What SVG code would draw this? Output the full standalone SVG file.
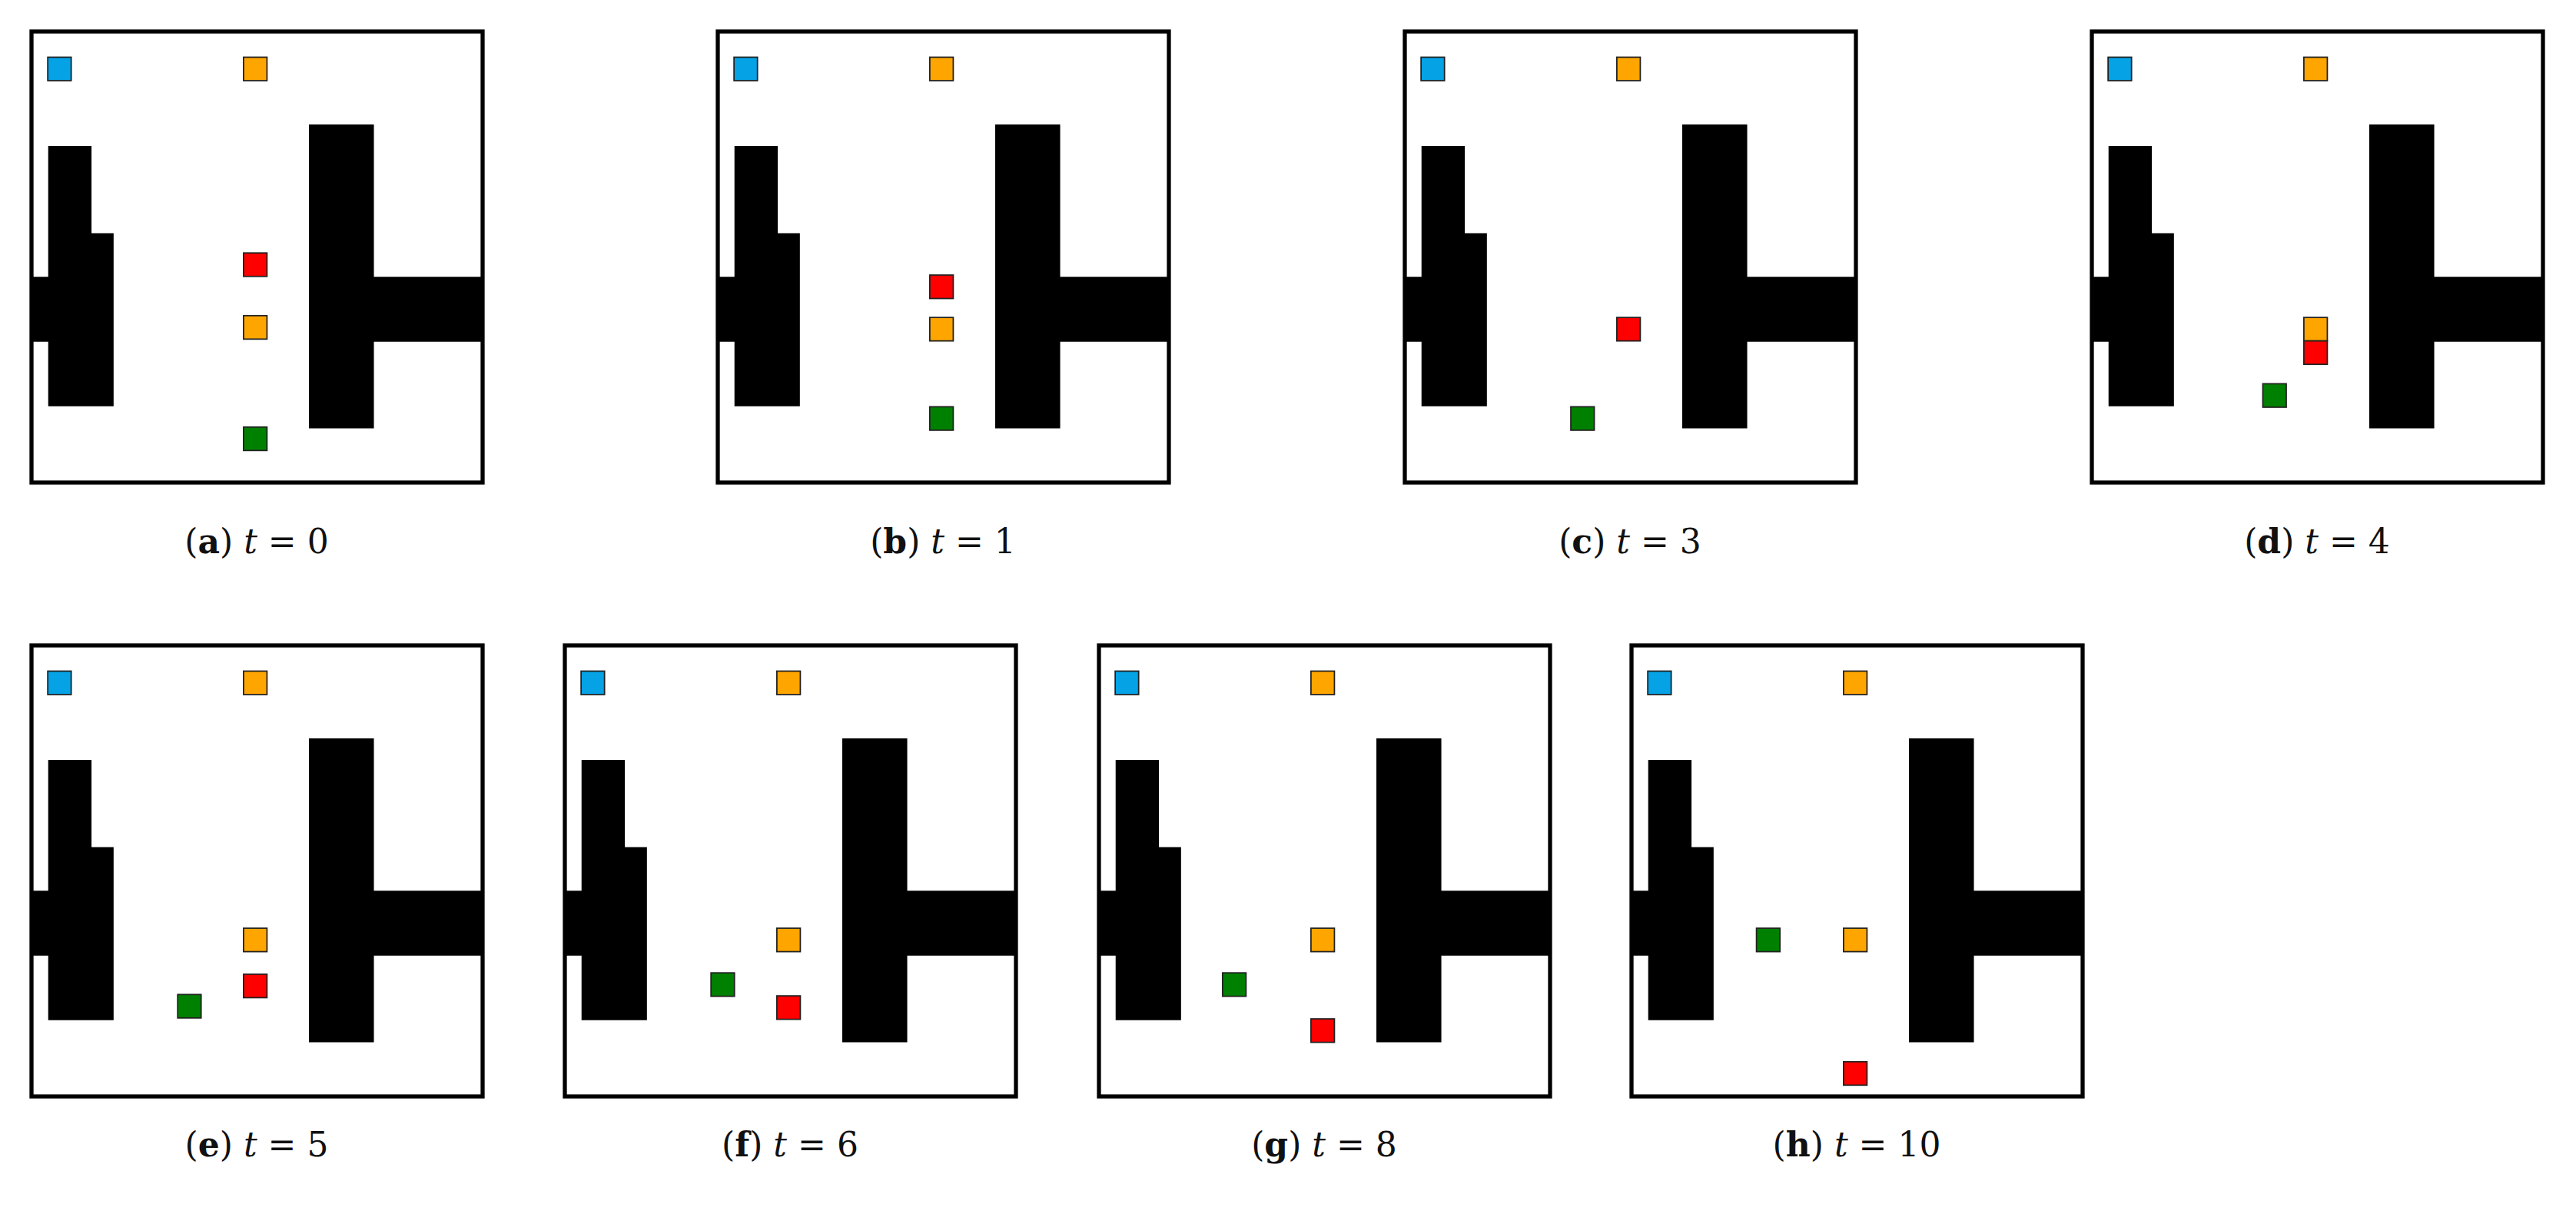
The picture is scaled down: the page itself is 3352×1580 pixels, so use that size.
<svg xmlns="http://www.w3.org/2000/svg" xmlns:xlink="http://www.w3.org/1999/xlink" width="3352" height="1580" viewBox="0 0 3352 1580">
<style>
.ag{stroke:#222;stroke-width:3}
.b{fill:#05a2e6}.o{fill:#ffa500}.r{fill:#ff0000}.g{fill:#008000}
.cap{font-family:"DejaVu Serif","Liberation Serif",serif;font-size:44px;fill:#111;text-anchor:middle}
</style>
<defs>
<g id="map">
<rect x="0" y="0" width="1000" height="1000" fill="#fff"/>
<path d="M37 254H133V447H182V831H37V688H0V544H37Z" fill="#000"/>
<path d="M615 206H759V544H1000V688H759V880H615Z" fill="#000"/>
<rect x="0" y="0" width="1000" height="1000" fill="none" stroke="#000" stroke-width="9"/>
<rect class="ag b" x="36" y="57" width="52" height="52"/>
<rect class="ag o" x="470" y="57" width="52" height="52"/>
</g>
<rect id="A" class="ag" x="-26" y="-26" width="52" height="52"/>
</defs>
<g id="panel-a" transform="translate(41,41) scale(0.587)">
<use xlink:href="#map"/>
<use xlink:href="#A" class="r" x="496" y="517"/><use xlink:href="#A" class="o" x="496" y="656"/><use xlink:href="#A" class="g" x="496" y="903"/>
</g>
<g id="panel-b" transform="translate(934,41) scale(0.587)">
<use xlink:href="#map"/>
<use xlink:href="#A" class="r" x="496" y="566"/><use xlink:href="#A" class="o" x="496" y="660"/><use xlink:href="#A" class="g" x="496" y="858"/>
</g>
<g id="panel-c" transform="translate(1828,41) scale(0.587)">
<use xlink:href="#map"/>
<use xlink:href="#A" class="r" x="496" y="660"/><use xlink:href="#A" class="g" x="394" y="858"/>
</g>
<g id="panel-d" transform="translate(2722,41) scale(0.587)">
<use xlink:href="#map"/>
<use xlink:href="#A" class="o" x="496" y="660"/><use xlink:href="#A" class="r" x="496" y="712"/><use xlink:href="#A" class="g" x="405" y="807"/>
</g>
<g id="panel-e" transform="translate(41,840) scale(0.587)">
<use xlink:href="#map"/>
<use xlink:href="#A" class="o" x="496" y="653"/><use xlink:href="#A" class="r" x="496" y="755"/><use xlink:href="#A" class="g" x="350" y="800"/>
</g>
<g id="panel-f" transform="translate(735,840) scale(0.587)">
<use xlink:href="#map"/>
<use xlink:href="#A" class="o" x="496" y="653"/><use xlink:href="#A" class="g" x="350" y="752"/><use xlink:href="#A" class="r" x="496" y="803"/>
</g>
<g id="panel-g" transform="translate(1430,840) scale(0.587)">
<use xlink:href="#map"/>
<use xlink:href="#A" class="o" x="496" y="653"/><use xlink:href="#A" class="g" x="300" y="752"/><use xlink:href="#A" class="r" x="496" y="854"/>
</g>
<g id="panel-h" transform="translate(2123,840) scale(0.587)">
<use xlink:href="#map"/>
<use xlink:href="#A" class="g" x="303" y="653"/><use xlink:href="#A" class="o" x="496" y="653"/><use xlink:href="#A" class="r" x="496" y="949"/>
</g>
<g id="captions">
<text class="cap" x="334" y="720">(<tspan font-weight="bold">a</tspan>)  <tspan font-style="italic">t</tspan> = 0</text>
<text class="cap" x="1227" y="720">(<tspan font-weight="bold">b</tspan>)  <tspan font-style="italic">t</tspan> = 1</text>
<text class="cap" x="2121" y="720">(<tspan font-weight="bold">c</tspan>)  <tspan font-style="italic">t</tspan> = 3</text>
<text class="cap" x="3015" y="720">(<tspan font-weight="bold">d</tspan>)  <tspan font-style="italic">t</tspan> = 4</text>
<text class="cap" x="334" y="1505">(<tspan font-weight="bold">e</tspan>)  <tspan font-style="italic">t</tspan> = 5</text>
<text class="cap" x="1028" y="1505">(<tspan font-weight="bold">f</tspan>)  <tspan font-style="italic">t</tspan> = 6</text>
<text class="cap" x="1723" y="1505">(<tspan font-weight="bold">g</tspan>)  <tspan font-style="italic">t</tspan> = 8</text>
<text class="cap" x="2416" y="1505">(<tspan font-weight="bold">h</tspan>)  <tspan font-style="italic">t</tspan> = 10</text>
</g>
</svg>
